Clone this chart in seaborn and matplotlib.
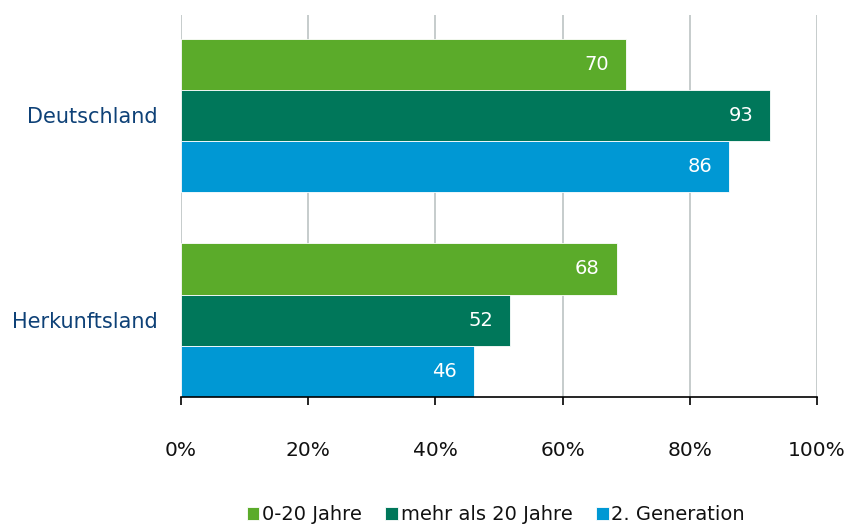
import matplotlib.pyplot as plt
import seaborn as sns
import pandas as pd

# data
countries = ["Deutschland", "Herkunftsland"]
groups = ["0-20 Jahre", "mehr als 20 Jahre", "2. Generation"]
values_0_20 = [70, 68.5]
values_20_plus = [92.6, 51.8]
values_2gen = [86.2, 46]
labels_0_20 = ["70", "68"]
labels_20_plus = ["93", "52"]
labels_2gen = ["86", "46"]
colors = ["#5BAB2A", "#00775A", "#0098D4"]

rows = []
for i, c in enumerate(countries):
    rows.append((c, groups[0], values_0_20[i]))
    rows.append((c, groups[1], values_20_plus[i]))
    rows.append((c, groups[2], values_2gen[i]))
df = pd.DataFrame(rows, columns=["land", "gruppe", "wert"])

sns.set_style("white")
plt.rcParams["font.family"] = ["DejaVu Sans"]

fig = plt.figure(figsize=(8.46, 5.24), dpi=100)
ax = fig.add_axes([181 / 846, 1 - 397 / 524, 636 / 846, 382 / 524])

sns.barplot(data=df, x="wert", y="land", hue="gruppe", orient="h",
            palette=colors, width=0.75, saturation=1, ax=ax,
            edgecolor="white", linewidth=0.6)

for cont, labs in zip(ax.containers, [labels_0_20, labels_20_plus, labels_2gen]):
    ax.bar_label(cont, labels=labs, padding=-30, color="white", fontsize=14)

ax.set_xlim(0, 100)
ax.set_ylim(1.375, -0.49)
ax.set_xticks(range(0, 101, 20))
ax.set_xticklabels([f"{t}%" for t in range(0, 101, 20)], fontsize=14.5)
ax.set_xlabel("")
ax.set_ylabel("")
ax.tick_params(axis="y", labelsize=15, labelcolor="#0E4177", length=0, pad=17)
ax.tick_params(axis="x", length=6, width=1.2, color="black", direction="out",
               pad=26, bottom=True, labelcolor="#111111")
ax.grid(axis="x", color="#C2C8C8", linewidth=1.3)
ax.set_axisbelow(True)
for s in ["top", "right", "left"]:
    ax.spines[s].set_visible(False)
ax.spines["bottom"].set_color("black")
ax.spines["bottom"].set_linewidth(1.2)

ax.legend(loc="lower center", bbox_to_anchor=(0.495, -0.368), ncol=3,
          frameon=False, fontsize=14, handlelength=0.65, handleheight=0.65,
          handletextpad=0.15, columnspacing=1.2, labelcolor="#111111",
          borderpad=0.2)

plt.savefig("out.png", dpi=100)
